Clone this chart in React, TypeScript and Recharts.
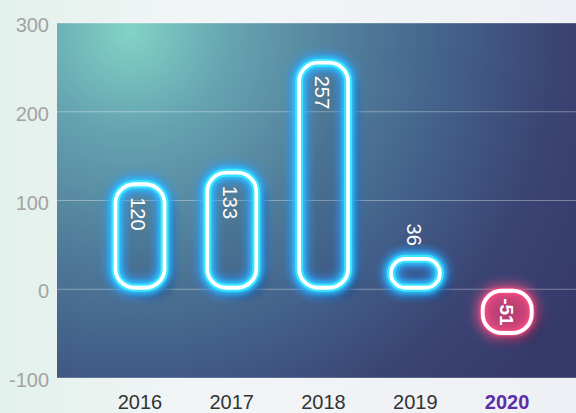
import { BarChart, Bar, XAxis, YAxis, CartesianGrid } from 'recharts'

const years = ['2016', '2017', '2018', '2019', '2020']
const values = [120, 133, 257, 36, -51]
const yTicks = [-100, 0, 100, 200, 300]

const data = years.map((year, i) => ({ year, value: values[i] }))

const FONT = '"Liberation Sans", Arial, sans-serif'

function GlowBar(props: any) {
  const { x, y, width, height, payload, index } = props
  const v = payload.value
  const inset = 1.5
  const top = Math.min(y, y + height) + inset
  const h = Math.abs(height) - inset * 2
  const bx = x + inset
  const bw = width - inset * 2
  const r = Math.min(19, h / 2, bw / 2)
  const neg = v < 0
  const glow = neg ? '#ff5d8f' : '#3ee6ff'
  const cx = x + width / 2
  const maskId = `barMask${index}`

  let label
  if (neg) {
    label = (
      <text transform={`translate(${cx - 1},${top + h / 2}) rotate(90)`} textAnchor="middle"
        dominantBaseline="central" fontSize={19} fontWeight="bold" fill="#fff" fontFamily={FONT}>{v}</text>
    )
  } else if (h < 50) {
    label = (
      <text transform={`translate(${cx - 1},${top - 13}) rotate(90)`} textAnchor="end"
        dominantBaseline="central" fontSize={20} fill="#fff" fontFamily={FONT}>{v}</text>
    )
  } else {
    label = (
      <text transform={`translate(${cx - 2},${top + 13}) rotate(90)`} textAnchor="start"
        dominantBaseline="central" fontSize={20} fill="#fff" fontFamily={FONT}>{v}</text>
    )
  }

  return (
    <g>
      <mask id={maskId} maskUnits="userSpaceOnUse" x={0} y={0} width={576} height={413}>
        <rect x={0} y={0} width={576} height={413} fill="#fff" />
        <rect x={bx} y={top} width={bw} height={h} rx={r} fill="#000" />
      </mask>
      <g mask={`url(#${maskId})`}>
        <rect x={bx + 8} y={top + 8} width={bw} height={h} rx={r} fill="#10153a" opacity={0.6} filter="url(#barShadow)" />
      </g>
      <rect x={bx} y={top} width={bw} height={h} rx={r}
        fill={neg ? 'rgba(205,64,118,0.85)' : 'rgba(30,45,95,0.1)'} />
      <rect x={bx} y={top} width={bw} height={h} rx={r} fill="none" stroke={neg ? '#ff4f86' : '#2a9dff'}
        strokeWidth={18} opacity={neg ? 0.45 : 0.85} filter="url(#glowBlur)" />
      <rect x={bx} y={top} width={bw} height={h} rx={r} fill="none" stroke={neg ? '#ff4f86' : '#2fd8ff'}
        strokeWidth={neg ? 7 : 12} opacity={0.7} filter="url(#glowSoft)" />
      <rect x={bx} y={top} width={bw} height={h} rx={r} fill="none" stroke={glow}
        strokeWidth={neg ? 5 : 8} opacity={0.95} />
      <rect x={bx} y={top} width={bw} height={h} rx={r} fill="none" stroke="#fff" strokeWidth={3.8} />
      {label}
    </g>
  )
}

function YearTick({ x, y, payload }: any) {
  const last = payload.value === '2020'
  return (
    <text x={x} y={y} dy={31} textAnchor="middle" fontSize={20} fontFamily={FONT}
      fill={last ? '#5b2ea6' : '#333'} fontWeight={last ? 'bold' : 'normal'}>
      {payload.value}
    </text>
  )
}

function ValueTick({ x, y, payload }: any) {
  return (
    <text x={x} y={y} dy={9} textAnchor="end" fontSize={20} fontFamily={FONT} fill="#a3a3a3">
      {payload.value}
    </text>
  )
}

export default function App() {
  return (
    <div style={{
      position: 'absolute', left: 0, top: 0, width: 576, height: 413, overflow: 'hidden',
      background: 'linear-gradient(90deg, #e3f1ec 0%, #f2f5f6 35%, #eef0f5 100%)',
    }}>
      <svg width={0} height={0} style={{ position: 'absolute' }}>
        <defs>
          <filter id="glowBlur" x="-50%" y="-50%" width="200%" height="200%">
            <feGaussianBlur stdDeviation={5} />
          </filter>
          <filter id="glowSoft" x="-50%" y="-50%" width="200%" height="200%">
            <feGaussianBlur stdDeviation={2} />
          </filter>
          <filter id="barShadow" x="-50%" y="-50%" width="200%" height="200%">
            <feGaussianBlur stdDeviation={4} />
          </filter>
        </defs>
      </svg>
      <div style={{
        position: 'absolute', left: 57, top: 23, width: 519, height: 355,
        background: 'radial-gradient(circle 520px at 73px 8px, #82d3c6 0%, #66a4b1 19%, #4f7a98 44%, #43608a 62%, #3a4473 82%, #363a6a 100%)',
      }} />
      <BarChart width={576} height={413} data={data} margin={{ top: 23, right: 0, left: 0, bottom: 0 }}
        style={{ position: 'absolute', left: 0, top: 0 }}>
        <CartesianGrid vertical={false} stroke="rgba(255,255,255,0.35)" strokeWidth={1} />
        <XAxis dataKey="year" axisLine={false} tickLine={false} tickSize={0} tickMargin={0} height={35}
          padding={{ left: 37, right: 23 }} tick={<YearTick />} interval={0} />
        <YAxis domain={[-100, 300]} ticks={yTicks} axisLine={false} tickLine={false} tickSize={0}
          tickMargin={8} width={57} tick={<ValueTick />} interval={0} />
        <Bar dataKey="value" barSize={52} shape={<GlowBar />} isAnimationActive={false} />
      </BarChart>
    </div>
  )
}
